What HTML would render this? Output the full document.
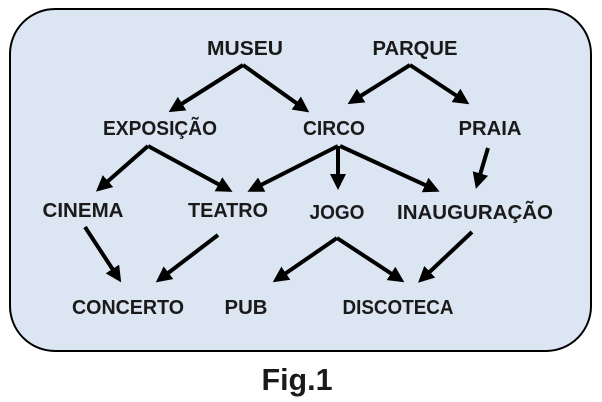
<!DOCTYPE html>
<html><head><meta charset="utf-8"><style>
html,body{margin:0;padding:0;background:#fff;width:602px;height:402px;overflow:hidden}
svg text{font-family:"Liberation Sans",sans-serif;font-weight:bold;fill:#1a1a1a;text-anchor:middle}
</style></head><body>
<svg width="602" height="402" viewBox="0 0 602 402">
<defs><marker id="a" markerWidth="4" markerHeight="4" refX="3" refY="2" orient="auto" markerUnits="strokeWidth"><path d="M0,0 L4,2 L0,4 z" fill="#000"/></marker></defs>
<rect x="10" y="9" width="581" height="342" rx="45" ry="45" fill="#dce6f2" stroke="#000" stroke-width="2"/>
<g font-size="20.5">
<text x="245" y="55" textLength="76" lengthAdjust="spacingAndGlyphs">MUSEU</text>
<text x="415" y="55" textLength="85" lengthAdjust="spacingAndGlyphs">PARQUE</text>
<text x="160" y="135" textLength="114" lengthAdjust="spacingAndGlyphs">EXPOSIÇÃO</text>
<text x="334" y="135" textLength="62" lengthAdjust="spacingAndGlyphs">CIRCO</text>
<text x="490" y="135" textLength="63" lengthAdjust="spacingAndGlyphs">PRAIA</text>
<text x="83" y="217" textLength="81" lengthAdjust="spacingAndGlyphs">CINEMA</text>
<text x="228" y="217" textLength="80" lengthAdjust="spacingAndGlyphs">TEATRO</text>
<text x="337" y="219" textLength="55" lengthAdjust="spacingAndGlyphs">JOGO</text>
<text x="475" y="219" textLength="156" lengthAdjust="spacingAndGlyphs">INAUGURAÇÃO</text>
<text x="128" y="314" textLength="112" lengthAdjust="spacingAndGlyphs">CONCERTO</text>
<text x="246" y="314" textLength="43" lengthAdjust="spacingAndGlyphs">PUB</text>
<text x="398" y="314" textLength="111" lengthAdjust="spacingAndGlyphs">DISCOTECA</text>
</g>
<text x="297" y="390" font-size="31" textLength="71" lengthAdjust="spacingAndGlyphs">Fig.1</text>
<g stroke="#000" stroke-width="4" fill="none" marker-end="url(#a)">
<path d="M243,65 L172,110"/><path d="M243,65 L306,110"/>
<path d="M410,65 L351,102"/><path d="M410,65 L466,102"/>
<path d="M148,146 L99,189"/><path d="M148,146 L229,190"/>
<path d="M338,146 L251,190"/><path d="M338,146 L338,186"/><path d="M340,146 L436,190"/>
<path d="M488,148 L477,185"/>
<path d="M85,227 L119,279"/>
<path d="M218,235 L159,280"/>
<path d="M337,238 L276,280"/><path d="M337,238 L401,280"/>
<path d="M472,232 L421,280"/>
</g>
</svg>
</body></html>
